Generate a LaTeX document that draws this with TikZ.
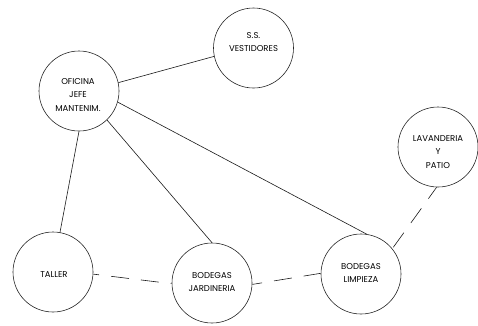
\documentclass[tikz,border=0pt]{standalone}
\usepackage{fontspec}
\setmainfont{Poppins}
\begin{document}
\begin{tikzpicture}[x=1pt,y=-1pt,
  room/.style={circle,draw=black!85,line width=0.6pt,minimum size=80pt,inner sep=0pt},
  lbl/.style={align=center,font=\fontsize{8.5}{13.5}\selectfont},
  link/.style={line width=0.6pt,draw=black!90},
  dlink/.style={link,dash pattern=on 18pt off 12pt}]
\useasboundingbox (0,0) rectangle (478,325);
\node[room] (ss) at (253.5,48) {};
\node[room] (ofi) at (79,91) {};
\node[room] (lav) at (438,147) {};
\node[room] (tal) at (53,272) {};
\node[room] (jar) at (212,283) {};
\node[room] (lim) at (361,274) {};
\node[lbl] (tss) at (253.5,42) {S.S.\\VESTIDORES};
\node[lbl] (tofi) at (78,95) {OFICINA\\JEFE\\MANTENIM.};
\node[lbl] (tlav) at (438,152) {LAVANDERIA\\Y\\PATIO};
\node[lbl] (ttal) at (54,275) {TALLER};
\node[lbl] (tjar) at (212,282) {BODEGAS\\JARDINERIA};
\node[lbl] (tlim) at (361,273) {BODEGAS\\LIMPIEZA};
\draw[link] (ofi.12.7) -- (ss.192.5);
\draw[link] (ofi.270) -- (tal.80);
\draw[link] (ofi.314) -- (jar.90);
\draw[link] (ofi.344) -- (lim.82);
\draw[dlink,dash phase=12pt] (tal.357) -- (jar.181);
\draw[dlink,dash phase=8pt] (jar.358) -- (lim.179);
\draw[dlink,dash phase=4pt] (lav.268) -- (lim.39);
\end{tikzpicture}
\end{document}
